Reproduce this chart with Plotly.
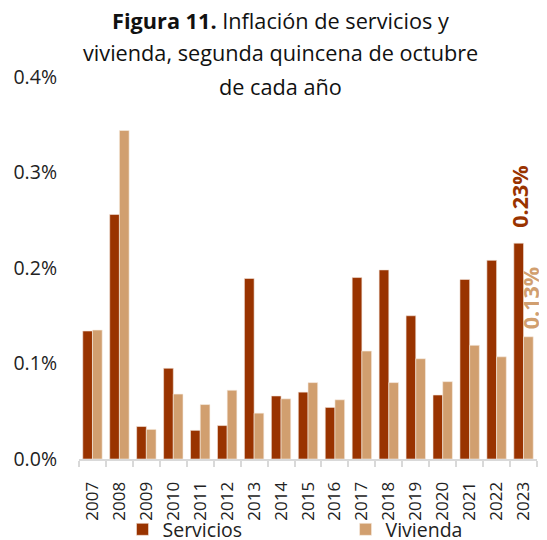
import plotly.graph_objects as go

years = ["2007", "2008", "2009", "2010", "2011", "2012", "2013", "2014", "2015",
         "2016", "2017", "2018", "2019", "2020", "2021", "2022", "2023"]
servicios = [0.134, 0.256, 0.034, 0.095, 0.030, 0.035, 0.189, 0.066, 0.070,
             0.054, 0.190, 0.198, 0.150, 0.067, 0.188, 0.208, 0.226]
vivienda = [0.135, 0.344, 0.031, 0.068, 0.057, 0.072, 0.048, 0.063, 0.080,
            0.062, 0.113, 0.080, 0.105, 0.081, 0.119, 0.107, 0.128]

title_lines = ["<b>Figura 11.</b> Inflación de servicios y",
               "vivienda, segunda quincena de octubre",
               "de cada año"]

c_serv = "#993300"
c_viv = "#D19F6F"

fig = go.Figure()
fig.add_trace(go.Bar(x=years, y=servicios, name="Servicios", marker_color=c_serv,
                     marker_line=dict(color="#f3e6dc", width=0.6), legend="legend"))
fig.add_trace(go.Bar(x=years, y=vivienda, name="Vivienda", marker_color=c_viv,
                     marker_line=dict(color="#f6ece2", width=0.6), legend="legend2"))

# label on the last year only, rotated like the original
# (category index, since "2023" as a string would be read as index 2023)
last = len(years) - 1
fig.add_annotation(x=last, y=servicios[-1], xref="x", yref="y",
                   text=f"<b>{servicios[-1]:.2f}%</b>", showarrow=False,
                   textangle=-90, yanchor="bottom", xanchor="center",
                   xshift=-4, yshift=13,
                   font=dict(family="Open Sans", size=21.5, color=c_serv))
fig.add_annotation(x=last, y=vivienda[-1], xref="x", yref="y",
                   text=f"<b>{vivienda[-1]:.2f}%</b>", showarrow=False,
                   textangle=-90, yanchor="bottom", xanchor="center",
                   xshift=7, yshift=5,
                   font=dict(family="Open Sans", size=21.5, color=c_viv))

# title as three separate lines (wider line spacing than plotly's default)
for line, yy in zip(title_lines, [1.149, 1.063, 0.974]):
    fig.add_annotation(x=0.439, y=yy, xref="paper", yref="paper",
                       text=line, showarrow=False, xanchor="center", yanchor="middle",
                       font=dict(family="Open Sans", size=21.7, color="#111111"))

leg = dict(orientation="h", xanchor="left", y=-0.236, yanchor="bottom",
           font=dict(size=19.5), bgcolor="rgba(0,0,0,0)")

# the page body has an 8px default margin, so the figure is 8px smaller
fig.update_layout(
    width=539, height=532,
    margin=dict(l=71, r=10, t=69, b=81, autoexpand=False),
    paper_bgcolor="white", plot_bgcolor="white",
    font=dict(family="Open Sans", color="#222222"),
    barmode="group", bargap=0.28, bargroupgap=0,
    showlegend=True,
    legend=dict(leg, x=0.095),
    legend2=dict(leg, x=0.582),
)
fig.update_xaxes(type="category", range=[-0.5, len(years) - 0.5],
                 showline=True, linecolor="#D9D9D9", linewidth=2,
                 ticks="outside", tickson="boundaries", ticklen=6, tickcolor="#D9D9D9",
                 tickwidth=2, tickangle=-90, tickfont=dict(size=17, color="#222222"),
                 showgrid=False, automargin=False, ticklabelstandoff=14)
fig.update_yaxes(range=[0, 0.4], dtick=0.1, tickformat=".1f", ticksuffix="%",
                 showgrid=False, zeroline=False, showline=False, automargin=False,
                 tickfont=dict(size=19.5, color="#222222"), ticklabelstandoff=21)

fig.write_html("out.html")
